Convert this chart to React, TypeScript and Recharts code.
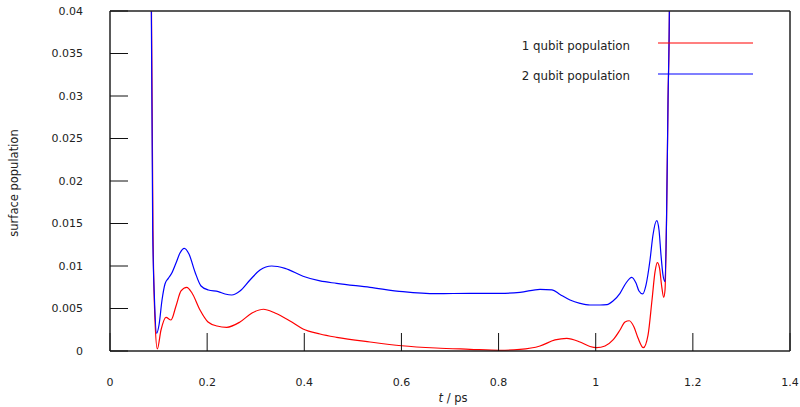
import { LineChart, Line, XAxis, YAxis, Legend } from "recharts";

// time axis (ps) and surface population
const redT = [
  0.0824, 0.0854, 0.0885, 0.0926, 0.0974, 0.105, 0.1153, 0.1256, 0.1359, 0.1462, 0.1579, 0.1688,
  0.1853, 0.2018, 0.2203, 0.2403, 0.2676, 0.2924, 0.3156, 0.3397, 0.3706, 0.3974, 0.4324, 0.4667,
  0.5353, 0.6006, 0.6712, 0.7412, 0.8029, 0.8441, 0.8853, 0.9162, 0.9403, 0.9676, 0.9882, 1.002,
  1.0191, 1.0356, 1.05, 1.0603, 1.0691, 1.0788, 1.0871, 1.098, 1.1077, 1.1159, 1.1221, 1.1268,
  1.1314, 1.1355, 1.14, 1.1427, 1.1458, 1.1489, 1.152, 1.155,
];
const redV = [
  0.08, 0.04, 0.0142, 0.00365, 0.00024, 0.00247, 0.00396, 0.00365, 0.0053, 0.00706, 0.00749, 0.00682,
  0.00482, 0.00341, 0.00294, 0.00279, 0.00341, 0.00447, 0.00491, 0.00447, 0.00353, 0.00259, 0.002, 0.00161,
  0.00106, 0.00062, 0.00035, 0.0002, 0.00008, 0.00018, 0.00059, 0.0013, 0.00149, 0.00106, 0.00053, 0.00039,
  0.00059, 0.0013, 0.00247, 0.00341, 0.00356, 0.00282, 0.00153, 0.00039, 0.00188, 0.006, 0.0093, 0.01039,
  0.00976, 0.00776, 0.00632, 0.00718, 0.0154, 0.0295, 0.0413, 0.08,
];

const blueT = [
  0.0824, 0.0851, 0.0879, 0.0916, 0.0961, 0.1009, 0.1071, 0.1132, 0.12, 0.127, 0.1359, 0.1441,
  0.153, 0.1626, 0.175, 0.1874, 0.2024, 0.223, 0.2368, 0.2506, 0.2676, 0.2882, 0.3088, 0.3329,
  0.3603, 0.3974, 0.4324, 0.4667, 0.5353, 0.6032, 0.6726, 0.7412, 0.8029, 0.8441, 0.8853,
  0.91, 0.9265, 0.9471, 0.9676, 0.9882, 1.0088, 1.0232, 1.0356, 1.05, 1.0624, 1.0741, 1.0829,
  1.0891, 1.0967, 1.1035, 1.1118, 1.1179, 1.1256, 1.1303, 1.1344, 1.1385, 1.1427, 1.1458, 1.1489,
  1.1516, 1.155,
];
const blueV = [
  0.08, 0.04, 0.0142, 0.006, 0.00208, 0.00306, 0.006, 0.00788, 0.00855, 0.00914, 0.01035, 0.01153,
  0.01208, 0.01141, 0.00929, 0.00765, 0.00718, 0.00698, 0.00671, 0.00659, 0.00706, 0.00835, 0.00953, 0.01,
  0.00972, 0.0088, 0.00824, 0.00796, 0.00749, 0.00698, 0.00674, 0.00679, 0.00679, 0.0069, 0.00726,
  0.0072, 0.00665, 0.006, 0.00561, 0.00541, 0.00541, 0.00545, 0.00588, 0.00679, 0.008, 0.00867, 0.008,
  0.00706, 0.00671, 0.00776, 0.01071, 0.01365, 0.01533, 0.01424, 0.01129, 0.00894, 0.00815, 0.0154, 0.0295,
  0.04, 0.08,
];

const xTicks = [0, 0.2, 0.4, 0.6, 0.8, 1, 1.2, 1.4];
const yTicks = [0, 0.005, 0.01, 0.015, 0.02, 0.025, 0.03, 0.035, 0.04];

const seriesNames = ["1 qubit population", "2 qubit population"];
const seriesColors = ["#ff0000", "#0000ff"];

const redData = redT.map((t, i) => ({ t, v: redV[i] }));
const blueData = blueT.map((t, i) => ({ t, v: blueV[i] }));

const FONT = "'DejaVu Sans', sans-serif";
const TICK = { fontSize: 11, fill: "#222", fontFamily: FONT };
const AXIS_LINE = { stroke: "#222", strokeWidth: 1.5 };
const TICK_LINE = { stroke: "#111", strokeWidth: 1 };

const LegendBox = () => (
  <svg width={800} height={100} style={{ display: "block" }}>
    {seriesNames.map((name, i) => (
      <g key={name}>
        <text
          x={630}
          y={46 + i * 30}
          textAnchor="end"
          dominantBaseline="central"
          fontSize={11.8}
          fill="#222"
          fontFamily={FONT}
        >
          {name}
        </text>
        <line x1={658} x2={753} y1={43 + i * 31} y2={43 + i * 31} stroke={seriesColors[i]} strokeWidth={1.2} />
      </g>
    ))}
  </svg>
);

export default function App() {
  return (
    <div style={{ position: "absolute", left: 0, top: 0, width: 800, height: 407, background: "#fff" }}>
      <LineChart width={800} height={407} margin={{ top: 0, right: 0, bottom: 0, left: 0 }} style={{ fontFamily: FONT }}>
        <XAxis
          dataKey="t"
          type="number"
          domain={[0, 1.4]}
          ticks={xTicks}
          height={56}
          tick={TICK}
          tickSize={-18}
          tickMargin={45}
          axisLine={AXIS_LINE}
          tickLine={TICK_LINE}
          label={{
            content: ({ viewBox }: any) => (
              <text
                x={viewBox.x + viewBox.width / 2 + 3}
                y={398}
                textAnchor="middle"
                dominantBaseline="central"
                fontSize={11.5}
                fill="#222"
                fontFamily={FONT}
              >
                <tspan fontStyle="italic">t</tspan> / ps
              </text>
            ),
          }}
        />
        <XAxis
          xAxisId="top"
          orientation="top"
          dataKey="t"
          type="number"
          domain={[0, 1.4]}
          ticks={xTicks}
          height={11}
          tick={false}
          tickSize={-18}
          axisLine={AXIS_LINE}
          tickLine={TICK_LINE}
        />
        <YAxis
          type="number"
          domain={[0, 0.04]}
          ticks={yTicks}
          allowDataOverflow
          width={110}
          tick={TICK}
          tickSize={-18}
          tickMargin={45}
          axisLine={AXIS_LINE}
          tickLine={TICK_LINE}
          label={{
            content: () => (
              <text
                x={14}
                y={183}
                transform="rotate(-90 14 183)"
                textAnchor="middle"
                dominantBaseline="central"
                fontSize={11.5}
                fill="#222"
                fontFamily={FONT}
              >
                surface population
              </text>
            ),
          }}
        />
        <YAxis
          yAxisId="right"
          orientation="right"
          type="number"
          domain={[0, 0.04]}
          ticks={yTicks}
          allowDataOverflow
          width={10}
          tick={false}
          tickSize={-18}
          axisLine={AXIS_LINE}
          tickLine={TICK_LINE}
        />
        <Legend
          layout="vertical"
          align="center"
          verticalAlign="middle"
          content={() => <LegendBox />}
          wrapperStyle={{ position: "absolute", left: 0, top: 0, width: 800, height: 100, pointerEvents: "none" }}
        />
        <Line
          data={redData}
          dataKey="v"
          name={seriesNames[0]}
          type="monotone"
          stroke={seriesColors[0]}
          strokeWidth={1.2}
          dot={false}
          isAnimationActive={false}
        />
        <Line
          data={blueData}
          dataKey="v"
          name={seriesNames[1]}
          type="monotone"
          stroke={seriesColors[1]}
          strokeWidth={1.2}
          dot={false}
          isAnimationActive={false}
        />
      </LineChart>
    </div>
  );
}
